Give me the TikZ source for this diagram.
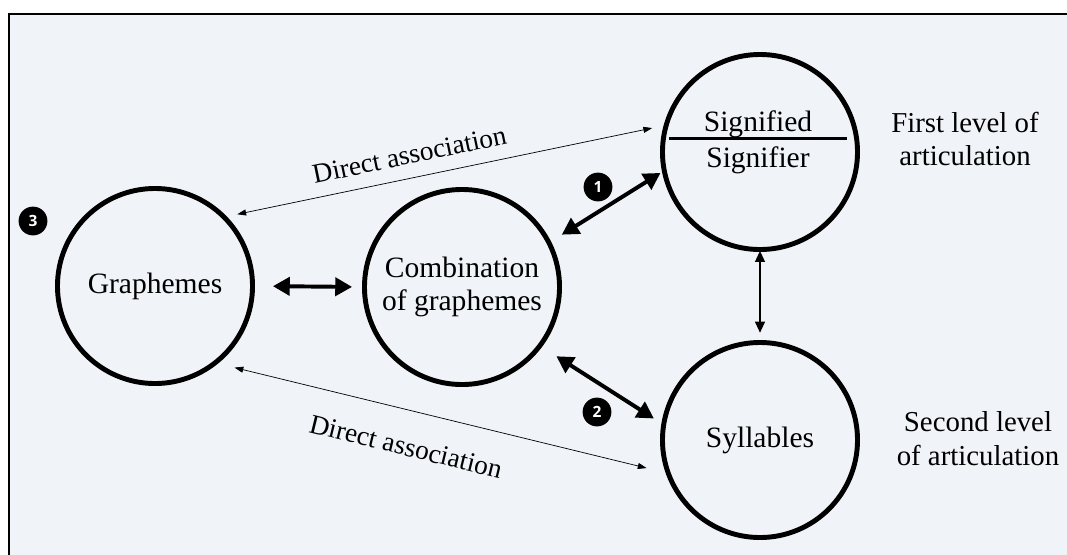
\documentclass[tikz,border=0pt]{standalone}
\usepackage{fontspec}
\setmainfont{Liberation Serif}
\newfontfamily\badgefont{Open Sans}
\usetikzlibrary{arrows.meta}
\definecolor{panelbg}{HTML}{F0F3F8}

\tikzset{
  concept/.style={circle, draw, line width=3.5pt, minimum size=4.875cm, inner sep=0pt,
    outer sep=0pt, align=center, font=\fontsize{21}{24}\selectfont},
  side label/.style={align=center, font=\fontsize{20.5}{24}\selectfont},
  badge/.style={circle, fill=black, text=white, minimum size=0.72cm, inner sep=0pt,
    font=\badgefont\bfseries\fontsize{11}{12}\selectfont},
  strong link/.style={line width=2.8pt,
    {Triangle[length=0.42cm,width=0.45cm]}-{Triangle[length=0.42cm,width=0.45cm]}},
  plain link/.style={line width=1.6pt,
    {Triangle[length=0.28cm,width=0.24cm]}-{Triangle[length=0.28cm,width=0.24cm]}},
  thin link/.style={line width=0.5pt,
    {Triangle[length=0.22cm,width=0.15cm]}-{Triangle[length=0.22cm,width=0.15cm]}},
  assoc/.style={font=\fontsize{19.5}{22}\selectfont, sloped}
}

\begin{document}
\begin{tikzpicture}[x=0.025cm, y=-0.025cm]
    % panel
    \useasboundingbox (0,0) rectangle (1067,554);
    \draw[fill=panelbg, line width=1pt] (9,14) rectangle (1080,570);

    % circles
    \node[concept] (graph) at (155,286) {Graphemes};
    \node[concept] (comb) at (462,287) {Combination\\of graphemes};
    \node[concept] (sig) at (760,152) {};
    \node[concept] (syl) at (760,440) {Syllables};

    % signified / signifier
    \node[side label, font=\fontsize{21}{24}\selectfont] (sigd) at (758,124) {Signified};
    \node[side label, font=\fontsize{21}{24}\selectfont] (sigr) at (758,160) {Signifier};
    \draw[line width=1.6pt, shorten <=0.15cm, shorten >=0.25cm] (sig.172) -- (sig.8);

    % levels
    \node[side label] (first) at (965,139) {First level of\\articulation};
    \node[side label] (second) at (978,439) {Second level\\of articulation};

    % links
    \draw[strong link, shorten <=0.51cm, shorten >=0.31cm] (graph.0) -- (comb.180);
    \draw[strong link, shorten <=0.38cm, shorten >=0.11cm] (comb.27) -- (sig.191);
    \draw[strong link, shorten <=0.49cm, shorten >=0.29cm] (comb.-37) -- (syl.171);
    \draw[plain link, shorten <=0.03cm, shorten >=0.24cm] (sig.270) -- (syl.90);

    \draw[thin link, shorten <=0.34cm, shorten >=0.36cm] (graph.45) --
        node[assoc, pos=0.43, above=0.22cm] (assoctop) {Direct association} (sig.164);
    \draw[thin link, shorten <=0.5cm, shorten >=0.56cm] (graph.-52) --
        node[assoc, pos=0.44, below=0.55cm] (assocbot) {Direct association} (syl.200);

    % numbers
    \node[badge] (one) at (598,187) {1};
    \node[badge] (two) at (597,412) {2};
    \node[badge] (three) at (33,221) {3};
\end{tikzpicture}
\end{document}
